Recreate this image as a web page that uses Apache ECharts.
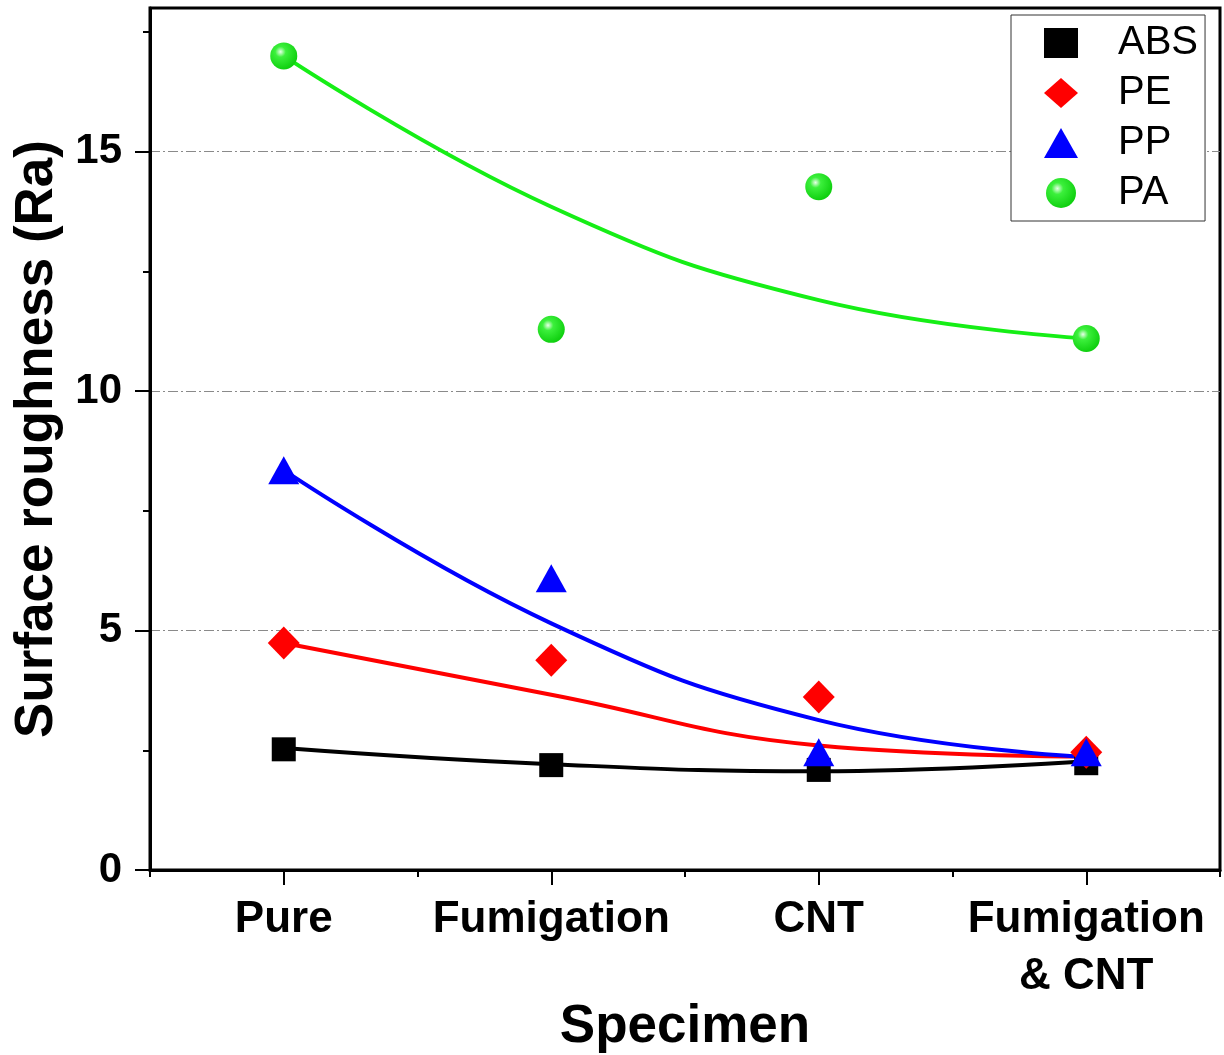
<!DOCTYPE html>
<html>
<head>
<meta charset="utf-8">
<script src="https://cdn.jsdelivr.net/npm/echarts@6/dist/echarts.min.js"></script>
<style>
  html, body { margin: 0; padding: 0; background: #fff; }
  #chart { width: 1224px; height: 1055px; }
</style>
</head>
<body>
<div id="chart"></div>
<script>
const categories = ['Pure', 'Fumigation', 'CNT', 'Fumigation\n& CNT'];

// measured points
const absData = [2.52, 2.19, 2.09, 2.23];
const peData = [4.74, 4.38, 3.61, 2.46];
const ppData = [8.35, 6.09, 2.46, 2.46];
const paData = [17.0, 11.29, 14.27, 11.1];

// fitted curves at each category
const absFit = [2.55, 2.21, 2.06, 2.27];
const peFit = [4.74, 3.66, 2.6, 2.37];
const ppFit = [8.35, 5.15, 3.13, 2.36];
const paFit = [17.0, 13.85, 11.9, 11.1];

const yMajorTicks = [0, 5, 10, 15];
const yMinorTicks = [2.5, 7.5, 12.5, 17.5];

const font = 'Liberation Sans, Arial, sans-serif';
const green = '#16ee16';

const chart = echarts.init(document.getElementById('chart'));

function fitLine(name, data, color) {
  return {
    name: name,
    type: 'line',
    data: data,
    smooth: 0.45,
    symbol: 'none',
    silent: true,
    z: 2,
    lineStyle: { color: color, width: 4 }
  };
}

function points(name, data, symbol, size, color) {
  return {
    name: name,
    type: 'scatter',
    data: data,
    symbol: symbol,
    symbolSize: size,
    z: 5,
    itemStyle: { color: color, opacity: 1 }
  };
}

const ballColor = new echarts.graphic.RadialGradient(0.38, 0.35, 0.65, [
  { offset: 0, color: '#e8ffe8' },
  { offset: 0.3, color: '#3cf03c' },
  { offset: 1, color: '#10d010' }
]);

const option = {
  backgroundColor: '#fff',
  animation: false,
  grid: {
    left: 150, right: 4, top: 8, bottom: 185,
    containLabel: false,
    outerBoundsMode: 'none',
    show: true, borderColor: '#000', borderWidth: 3
  },
  legend: {
    data: ['ABS', 'PE', 'PP', 'PA'],
    orient: 'vertical',
    left: 1011,
    top: 15,
    padding: [7, 7, 7, 33],
    itemGap: 8,
    itemWidth: 34,
    itemHeight: 30,
    borderColor: '#333',
    borderWidth: 1,
    backgroundColor: '#fff',
    textStyle: {
      fontFamily: font, fontSize: 40, color: '#000',
      lineHeight: 42, padding: [0, 0, 0, 35]
    }
  },
  xAxis: [{
    type: 'category',
    data: categories,
    position: 'bottom',
    boundaryGap: true,
    axisLine: { show: true, lineStyle: { color: '#000', width: 3 } },
    axisTick: { show: true, alignWithLabel: true, length: 15, lineStyle: { color: '#000', width: 2 } },
    axisLabel: {
      interval: 0, margin: 21, color: '#000', fontFamily: font,
      fontWeight: 'bold', fontSize: 44, lineHeight: 57
    },
    splitLine: { show: false },
    name: 'Specimen',
    nameLocation: 'middle',
    nameGap: 131,
    nameMoveOverlap: false,
    nameTextStyle: { fontFamily: font, fontWeight: 'bold', fontSize: 53, color: '#000' }
  }, {
    type: 'category',
    data: categories,
    position: 'bottom',
    boundaryGap: true,
    axisLine: { show: false },
    axisTick: { show: true, length: 7, lineStyle: { color: '#000', width: 2 } },
    axisLabel: { show: false },
    splitLine: { show: false }
  }],
  yAxis: [{
    type: 'value',
    position: 'left',
    min: 0, max: 18, interval: 5,
    axisLine: { show: true, lineStyle: { color: '#000', width: 3 } },
    axisTick: { show: true, length: 15, customValues: yMajorTicks, lineStyle: { color: '#000', width: 2 } },
    axisLabel: {
      customValues: yMajorTicks, margin: 28, color: '#000', fontFamily: font,
      fontWeight: 'bold', fontSize: 42
    },
    splitLine: { show: true, lineStyle: { color: '#8a8a8a', width: 1, type: [10, 3, 2, 3] } },
    name: 'Surface roughness (Ra)',
    nameLocation: 'middle',
    nameGap: 86,
    nameTextStyle: { fontFamily: font, fontWeight: 'bold', fontSize: 53, color: '#000' }
  }, {
    type: 'value',
    position: 'left',
    min: 0, max: 18, interval: 2.5,
    axisLine: { show: false },
    axisTick: { show: true, length: 7, customValues: yMinorTicks, lineStyle: { color: '#000', width: 2 } },
    axisLabel: { show: false },
    splitLine: { show: false }
  }],
  series: [
    fitLine('ABS fit', absFit, '#000'),
    fitLine('PE fit', peFit, '#ff0000'),
    fitLine('PP fit', ppFit, '#0000ff'),
    fitLine('PA fit', paFit, green),
    points('ABS', absData, 'rect', 24, '#000'),
    points('PE', peData, 'diamond', [32, 33], '#ff0000'),
    points('PP', ppData, 'triangle', [31, 28], '#0000ff'),
    points('PA', paData, 'circle', 27, ballColor)
  ]
};

chart.setOption(option);
</script>
</body>
</html>
